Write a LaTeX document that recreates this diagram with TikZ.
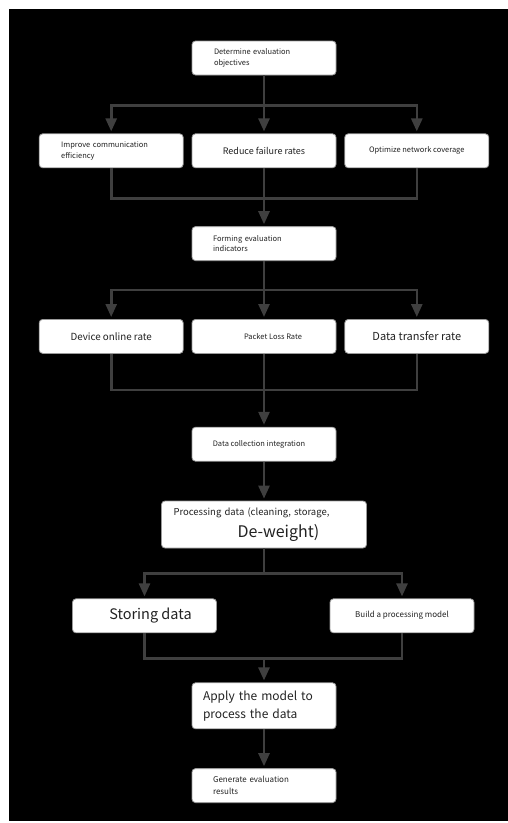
\documentclass[tikz,border=0pt]{standalone}
\usepackage{fontspec}
\setmainfont{Noto Sans CJK SC}
\usepackage{xcolor}
\usetikzlibrary{positioning,arrows.meta}

\definecolor{linegray}{HTML}{3F3F3F}
\definecolor{textgray}{HTML}{222222}
\definecolor{edgegray}{HTML}{9A9A9A}

\begin{document}
\begin{tikzpicture}[
  x=1pt, y=1pt,
  line/.style={draw=linegray, line width=2.6pt}, % plain connector
  arr/.style={line, -{Triangle[length=13pt,width=11pt]}, shorten >=2pt}, % connector with head
  box/.style={draw=edgegray, line width=0.8pt, fill=white, rounded corners=3.5pt,
    inner sep=0pt, minimum width=144pt, minimum height=34pt, text=textgray, align=center}, % step box
  left box/.style={box, text width=#1, align=left}, % step box, text on the left
  tiny/.style={font=\fontsize{7.5}{10.5}\selectfont},
  small/.style={font=\fontsize{8}{11.5}\selectfont},
  mid/.style={font=\fontsize{9.5}{12}\selectfont},
  big/.style={font=\fontsize{11}{13}\selectfont},
  large/.style={font=\fontsize{12}{18}\selectfont},
  huge/.style={font=\fontsize{14.5}{17}\selectfont}
  ]

  % page and dark backdrop
  \useasboundingbox (0,0) rectangle (508,-823);
  \fill[white] (0,0) rectangle (508,-823);
  \fill[black] (9,-9) rectangle (508,-821);

  \node[left box=100pt, tiny] (obj) at (264,-58) {Determine evaluation\\objectives};
  \node[box, font=\fontsize{9}{12}\selectfont] (red) [below=58pt of obj] {Reduce failure rates};
  \node[left box=100pt, tiny] (imp) [left=8pt of red] {Improve communication\\efficiency};
  \node[box, tiny] (opt) [right=8pt of red] {Optimize network coverage};
  \node[left box=102pt, tiny] (ind) [below=58pt of red] {Forming evaluation\\indicators};
  \node[box, tiny] (pkt) [below=58pt of ind] {\hspace*{18pt}Packet Loss Rate};
  \node[box, font=\fontsize{9.8}{12}\selectfont] (dev) [left=8pt of pkt] {Device online rate};
  \node[box, big] (dtr) [right=8pt of pkt] {Data transfer rate};
  \node[box, tiny] (coll) [below=73pt of pkt] {Data collection integration\hspace*{10pt}};
  \node[left box=181pt, minimum width=205pt, minimum height=47pt,
    font=\fontsize{9.5}{22}\selectfont] (proc) [below=39pt of coll]
    {Processing data (cleaning, storage,\\\hspace*{64pt}{\fontsize{16}{22}\selectfont De-weight)}};
  \node[box, huge] (store) [below=50pt of proc, xshift=-119.5pt] {\hspace*{12pt}Storing data};
  \node[box, small] (model) [below=50pt of proc, xshift=138pt] {Build a processing model};
  \node[left box=122pt, large, minimum height=46pt] (apply) [below=134pt of proc] {Apply the model to\\process the data};
  \node[left box=102pt, small] (gen) [below=39pt of apply] {Generate evaluation\\results};

  % objectives
  \coordinate[below=30pt of obj.south] (s1);
  \draw[line] (obj.south) -- (s1);
  \draw[arr] (s1) -| (imp.north);
  \draw[arr] (s1) -- (red.north);
  \draw[arr] (s1) -| (opt.north);
  \coordinate[below=30pt of red.south] (m1);
  \draw[line] (imp.south) |- (m1) -| (opt.south);
  \draw[arr] (red.south) -- (ind.north);

  % indicators
  \coordinate[below=29pt of ind.south] (s2);
  \draw[line] (ind.south) -- (s2);
  \draw[arr] (s2) -| (dev.north);
  \draw[arr] (s2) -- (pkt.north);
  \draw[arr] (s2) -| (dtr.north);
  \coordinate[below=36pt of pkt.south] (m2);
  \draw[line] (dev.south) |- (m2) -| (dtr.south);
  \draw[arr] (pkt.south) -- (coll.north);

  % data handling
  \draw[arr] (coll.south) -- (proc.north);
  \coordinate[below=25pt of proc.south] (s3);
  \draw[line] (proc.south) -- (s3);
  \draw[arr] (s3) -| (store.north);
  \draw[arr] (s3) -| (model.north);
  \coordinate[above=24pt of apply.north] (m3);
  \draw[line] (store.south) |- (m3) -| (model.south);
  \draw[arr] (m3) -- (apply.north);
  \draw[arr] (apply.south) -- (gen.north);
\end{tikzpicture}
\end{document}
